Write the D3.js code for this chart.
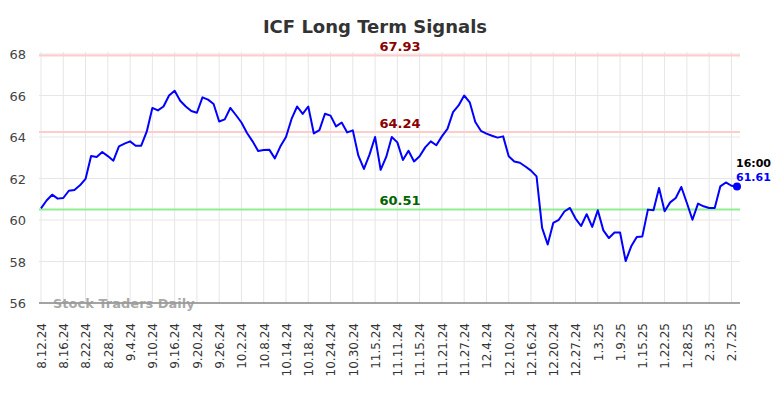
<!DOCTYPE html>
<html>
<head>
<meta charset="utf-8">
<script src="https://cdn.jsdelivr.net/npm/d3@7"></script>
<style>
  body { margin: 0; background: #fff; }
  svg { font-family: "DejaVu Sans", sans-serif; }
</style>
</head>
<body>
<svg id="chart"></svg>
<script>
// chart data
const tickLabels = ['8.12.24', '8.16.24', '8.22.24', '8.28.24', '9.4.24', '9.10.24', '9.16.24', '9.20.24',
  '9.26.24', '10.2.24', '10.8.24', '10.14.24', '10.18.24', '10.24.24', '10.30.24', '11.5.24',
  '11.11.24', '11.15.24', '11.21.24', '11.27.24', '12.4.24', '12.10.24', '12.16.24', '12.20.24',
  '12.27.24', '1.3.25', '1.9.25', '1.15.25', '1.22.25', '1.28.25', '2.3.25', '2.7.25'];

const prices = [
  60.56, 60.94, 61.22, 61.03, 61.06, 61.41, 61.45, 61.67, 61.98, 63.08,
  63.04, 63.28, 63.08, 62.86, 63.55, 63.68, 63.79, 63.58, 63.58, 64.27,
  65.40, 65.28, 65.47, 66.00, 66.23, 65.75, 65.47, 65.25, 65.17, 65.91,
  65.80, 65.59, 64.75, 64.85, 65.40, 65.06, 64.70, 64.19, 63.79, 63.33,
  63.37, 63.39, 62.97, 63.55, 64.00, 64.87, 65.47, 65.11, 65.47, 64.17,
  64.33, 65.12, 65.03, 64.51, 64.70, 64.22, 64.32, 63.10, 62.46, 63.15,
  64.00, 62.42, 63.04, 64.00, 63.74, 62.89, 63.34, 62.82, 63.07, 63.50,
  63.79, 63.60, 64.03, 64.39, 65.20, 65.52, 66.00, 65.67, 64.72, 64.30,
  64.16, 64.06, 63.97, 64.03, 63.07, 62.82, 62.76, 62.58, 62.38, 62.10,
  59.62, 58.82, 59.86, 60.01, 60.41, 60.58, 60.07, 59.71, 60.28, 59.67,
  60.47, 59.50, 59.13, 59.40, 59.40, 58.02, 58.73, 59.18, 59.21, 60.50,
  60.47, 61.54, 60.42, 60.85, 61.06, 61.59, 60.82, 60.01, 60.79, 60.66,
  60.58, 60.58, 61.62, 61.81, 61.65, 61.61];

const yTicks = [56, 58, 60, 62, 64, 66, 68];
const levels = [67.93, 64.24, 60.51];
const levelKinds = ['resist', 'resist', 'support'];
const lastTime = '16:00';
const tickEvery = 4;

// set up constants
const width = 784;
const height = 398;
const margin = { top: 54, right: 44, bottom: 95, left: 41 };
const plotRight = 740;

const svg = d3.select('#chart')
  .attr('width', width)
  .attr('height', height);

// scales
const xScale = d3.scaleLinear()
  .domain([0, prices.length - 1])
  .range([margin.left, 737]);

const yScale = d3.scaleLinear()
  .domain([56, 68])
  .range([height - margin.bottom, margin.top]);

const tickIdx = tickLabels.map((d, i) => i * tickEvery);

// grid lines
svg.append('g')
  .selectAll('line')
  .data(tickIdx)
  .join('line')
  .attr('x1', d => xScale(d))
  .attr('x2', d => xScale(d))
  .attr('y1', yScale(68) - 2)
  .attr('y2', yScale(56))
  .attr('stroke', '#e6e6e6')
  .attr('stroke-width', 1);

svg.append('g')
  .selectAll('line')
  .data(yTicks)
  .join('line')
  .attr('x1', 39)
  .attr('x2', plotRight)
  .attr('y1', d => yScale(d))
  .attr('y2', d => yScale(d))
  .attr('stroke', '#e6e6e6')
  .attr('stroke-width', 1);

// y axis labels
const yAxis = d3.axisLeft(yScale).tickValues(yTicks).tickSize(0).tickPadding(0);
const yg = svg.append('g')
  .attr('transform', 'translate(26,0)')
  .call(yAxis);
yg.select('.domain').remove();
yg.selectAll('text')
  .attr('font-size', 13)
  .attr('font-family', '"DejaVu Sans", sans-serif')
  .attr('fill', '#444')
  .attr('dy', '0.36em');

// x axis labels
const xAxis = d3.axisBottom(xScale)
  .tickValues(tickIdx)
  .tickFormat((d, i) => tickLabels[i])
  .tickSize(0);
const xg = svg.append('g')
  .attr('transform', `translate(0, ${yScale(56)})`)
  .call(xAxis);
xg.select('.domain').remove();
xg.selectAll('text')
  .attr('font-size', 12)
  .attr('font-family', '"DejaVu Sans", sans-serif')
  .attr('fill', '#333')
  .attr('transform', 'rotate(-90)')
  .attr('text-anchor', 'end')
  .attr('x', -20)
  .attr('y', 0)
  .attr('dy', '0.36em');

// bottom axis line
svg.append('line')
  .attr('x1', 39)
  .attr('x2', plotRight)
  .attr('y1', yScale(56))
  .attr('y2', yScale(56))
  .attr('stroke', '#555')
  .attr('stroke-width', 1);

// signal levels
svg.append('g')
  .selectAll('line')
  .data(levels)
  .join('line')
  .attr('x1', 39)
  .attr('x2', plotRight)
  .attr('y1', d => yScale(d))
  .attr('y2', d => yScale(d))
  .attr('stroke', (d, i) => levelKinds[i] === 'support' ? '#90ee90' : '#ffcccc')
  .attr('stroke-width', 2);

svg.append('g')
  .selectAll('text')
  .data(levels)
  .join('text')
  .attr('x', 400)
  .attr('y', d => yScale(d) - 4)
  .attr('text-anchor', 'middle')
  .attr('font-size', 13)
  .attr('font-weight', 'bold')
  .attr('fill', (d, i) => levelKinds[i] === 'support' ? '#006400' : '#8b0000')
  .text(d => d.toFixed(2));

// watermark
svg.append('text')
  .attr('x', 53)
  .attr('y', yScale(56) + 5)
  .attr('font-size', 13)
  .attr('font-weight', 'bold')
  .attr('fill', '#999')
  .attr('fill-opacity', 0.85)
  .text('Stock Traders Daily');

// price line
const line = d3.line()
  .x((d, i) => xScale(i))
  .y(d => yScale(d));

svg.append('path')
  .datum(prices)
  .attr('d', line)
  .attr('fill', 'none')
  .attr('stroke', '#0000ff')
  .attr('stroke-width', 2)
  .attr('stroke-linejoin', 'round');

// last point
const lastI = prices.length - 1;
const last = prices[lastI];
svg.append('circle')
  .attr('cx', xScale(lastI))
  .attr('cy', yScale(last))
  .attr('r', 4)
  .attr('fill', '#0000ff');

svg.append('text')
  .attr('x', xScale(lastI) - 1)
  .attr('y', yScale(last) - 20)
  .attr('font-size', 11)
  .attr('font-weight', 'bold')
  .attr('fill', '#000')
  .text(lastTime);

svg.append('text')
  .attr('x', xScale(lastI) - 1)
  .attr('y', yScale(last) - 6)
  .attr('font-size', 11)
  .attr('font-weight', 'bold')
  .attr('fill', '#0000ff')
  .text(last.toFixed(2));

// title
svg.append('text')
  .attr('x', 375)
  .attr('y', 33)
  .attr('text-anchor', 'middle')
  .attr('font-size', 18)
  .attr('font-weight', 'bold')
  .attr('fill', '#333')
  .text('ICF Long Term Signals');
</script>
</body>
</html>
